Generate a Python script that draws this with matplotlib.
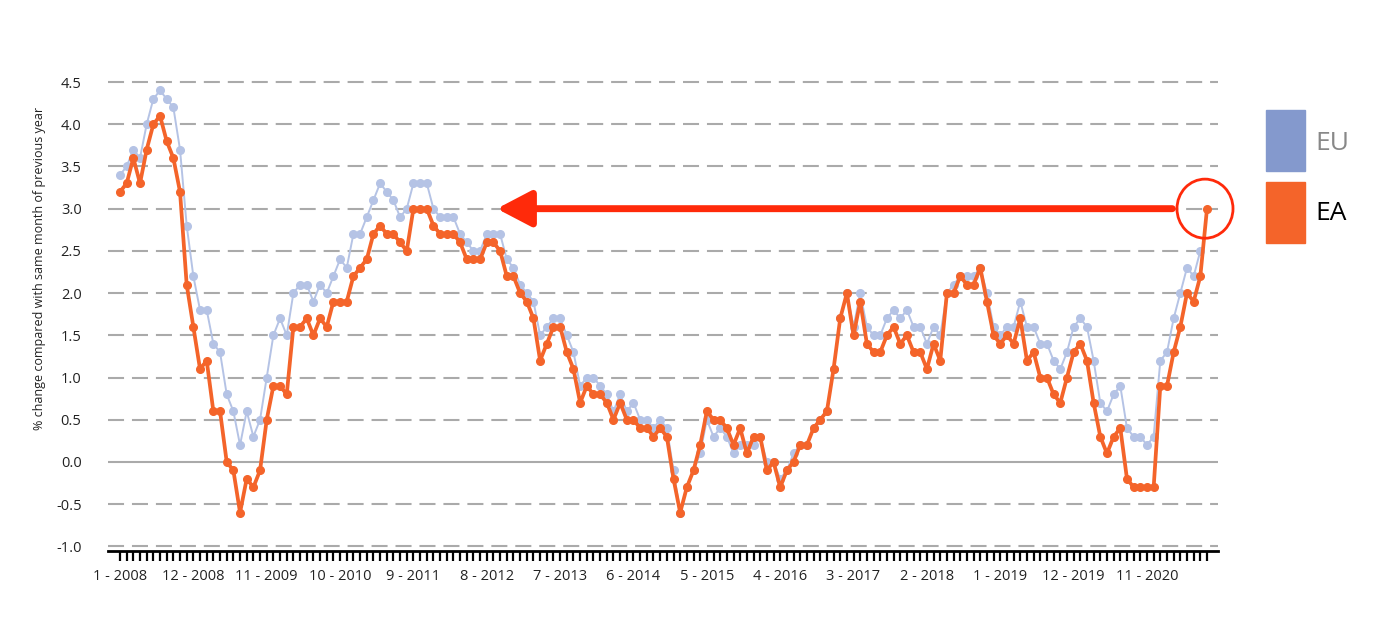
import numpy as np
import matplotlib
matplotlib.use("Agg")
import matplotlib.pyplot as plt
from matplotlib.patches import Ellipse, Rectangle

plt.rcParams['font.family'] = ['Open Sans', 'DejaVu Sans']

# === DATA (monthly, 1-2008 .. 8-2021) ===
ea_values = [
    3.2, 3.3, 3.6, 3.3, 3.7, 4.0, 4.1, 3.8, 3.6, 3.2, 2.1, 1.6,   # 2008
    1.1, 1.2, 0.6, 0.6, 0.0, -0.1, -0.6, -0.2, -0.3, -0.1, 0.5, 0.9,  # 2009
    0.9, 0.8, 1.6, 1.6, 1.7, 1.5, 1.7, 1.6, 1.9, 1.9, 1.9, 2.2,   # 2010
    2.3, 2.4, 2.7, 2.8, 2.7, 2.7, 2.6, 2.5, 3.0, 3.0, 3.0, 2.8,   # 2011
    2.7, 2.7, 2.7, 2.6, 2.4, 2.4, 2.4, 2.6, 2.6, 2.5, 2.2, 2.2,   # 2012
    2.0, 1.9, 1.7, 1.2, 1.4, 1.6, 1.6, 1.3, 1.1, 0.7, 0.9, 0.8,   # 2013
    0.8, 0.7, 0.5, 0.7, 0.5, 0.5, 0.4, 0.4, 0.3, 0.4, 0.3, -0.2,  # 2014
    -0.6, -0.3, -0.1, 0.2, 0.6, 0.5, 0.5, 0.4, 0.2, 0.4, 0.1, 0.3,  # 2015
    0.3, -0.1, 0.0, -0.3, -0.1, 0.0, 0.2, 0.2, 0.4, 0.5, 0.6, 1.1,  # 2016
    1.7, 2.0, 1.5, 1.9, 1.4, 1.3, 1.3, 1.5, 1.6, 1.4, 1.5, 1.3,   # 2017
    1.3, 1.1, 1.4, 1.2, 2.0, 2.0, 2.2, 2.1, 2.1, 2.3, 1.9, 1.5,   # 2018
    1.4, 1.5, 1.4, 1.7, 1.2, 1.3, 1.0, 1.0, 0.8, 0.7, 1.0, 1.3,   # 2019
    1.4, 1.2, 0.7, 0.3, 0.1, 0.3, 0.4, -0.2, -0.3, -0.3, -0.3, -0.3,  # 2020
    0.9, 0.9, 1.3, 1.6, 2.0, 1.9, 2.2, 3.0,                       # 2021
]

eu_values = [
    3.4, 3.5, 3.7, 3.6, 4.0, 4.3, 4.4, 4.3, 4.2, 3.7, 2.8, 2.2,   # 2008
    1.8, 1.8, 1.4, 1.3, 0.8, 0.6, 0.2, 0.6, 0.3, 0.5, 1.0, 1.5,   # 2009
    1.7, 1.5, 2.0, 2.1, 2.1, 1.9, 2.1, 2.0, 2.2, 2.4, 2.3, 2.7,   # 2010
    2.7, 2.9, 3.1, 3.3, 3.2, 3.1, 2.9, 3.0, 3.3, 3.3, 3.3, 3.0,   # 2011
    2.9, 2.9, 2.9, 2.7, 2.6, 2.5, 2.5, 2.7, 2.7, 2.7, 2.4, 2.3,   # 2012
    2.1, 2.0, 1.9, 1.5, 1.6, 1.7, 1.7, 1.5, 1.3, 0.9, 1.0, 1.0,   # 2013
    0.9, 0.8, 0.6, 0.8, 0.6, 0.7, 0.5, 0.5, 0.4, 0.5, 0.4, -0.1,  # 2014
    -0.6, -0.3, -0.1, 0.1, 0.5, 0.3, 0.4, 0.3, 0.1, 0.2, 0.2, 0.2,  # 2015
    0.3, 0.0, 0.0, -0.2, -0.1, 0.1, 0.2, 0.2, 0.4, 0.5, 0.6, 1.1,  # 2016
    1.7, 2.0, 1.6, 2.0, 1.6, 1.5, 1.5, 1.7, 1.8, 1.7, 1.8, 1.6,   # 2017
    1.6, 1.4, 1.6, 1.5, 2.0, 2.1, 2.2, 2.2, 2.2, 2.3, 2.0, 1.6,   # 2018
    1.5, 1.6, 1.6, 1.9, 1.6, 1.6, 1.4, 1.4, 1.2, 1.1, 1.3, 1.6,   # 2019
    1.7, 1.6, 1.2, 0.7, 0.6, 0.8, 0.9, 0.4, 0.3, 0.3, 0.2, 0.3,   # 2020
    1.2, 1.3, 1.7, 2.0, 2.3, 2.2, 2.5,                            # 2021
]

x_labels = ["1 - 2008", "12 - 2008", "11 - 2009", "10 - 2010", "9 - 2011",
            "8 - 2012", "7 - 2013", "6 - 2014", "5 - 2015", "4 - 2016",
            "3 - 2017", "2 - 2018", "1 - 2019", "12 - 2019", "11 - 2020"]
label_step = 11
y_ticks = [-1.0, -0.5, 0.0, 0.5, 1.0, 1.5, 2.0, 2.5, 3.0, 3.5, 4.0, 4.5]

# === STYLE ===
ORANGE = "#f4642a"
BLUE_LINE = "#b5c3e5"
BLUE_LEGEND = "#8499cd"
RED = "#ff2a0a"
GRID = "#aaaaaa"

fig = plt.figure(figsize=(13.79, 6.21), dpi=100)
ax = fig.add_axes([108 / 1379, 1 - 551 / 621, 1110 / 1379, 477.4 / 621])

x_ea = np.arange(len(ea_values))
x_eu = np.arange(len(eu_values))

# grid lines
for v in y_ticks:
    if v == 0.0:
        ax.axhline(v, color=GRID, lw=1.5, zorder=1)
    else:
        ax.axhline(v, color=GRID, lw=1.5, ls=(0, (7.7, 3.8)), zorder=1)

ax.plot(x_eu, eu_values, color=BLUE_LINE, lw=1.4, marker='o', ms=5.5,
        mec=BLUE_LINE, mfc=BLUE_LINE, zorder=2)
ax.plot(x_ea, ea_values, color=ORANGE, lw=2.7, marker='o', ms=5.5,
        mec=ORANGE, mfc=ORANGE, zorder=3)

ax.set_xlim(-1.8, 164.65)
ax.set_ylim(-1.055, 4.6)

# axes styling
for s in ['top', 'right', 'left']:
    ax.spines[s].set_visible(False)
ax.spines['bottom'].set_linewidth(2)
ax.spines['bottom'].set_color('black')

ax.set_xticks(x_ea)
ax.set_xticklabels([x_labels[i // label_step] if i % label_step == 0 and i // label_step < len(x_labels) else ""
                    for i in x_ea])
ax.tick_params(axis='x', length=7, width=1.6, color='black', pad=6,
               labelsize=10.5, labelcolor='#222222')
ax.set_yticks(y_ticks)
ax.set_yticklabels([f"{v:.1f}" for v in y_ticks])
ax.tick_params(axis='y', length=0, pad=19, labelsize=10.5, labelcolor='#222222')

fig.text(40 / 1379, 1 - 268 / 621, "% change compared with same month of previous year",
         rotation=90, va='center', ha='center', fontsize=9, color='#222222')

# annotation: arrow back to the earlier 3.0 level, circle on latest point
last = len(ea_values) - 1
ax.annotate("", xy=(56.5, 3.0), xytext=(157.8, 3.0),
            arrowprops=dict(arrowstyle='-|>,head_length=1.05,head_width=0.55',
                            color=RED, lw=5, mutation_scale=20,
                            shrinkA=0, shrinkB=0), zorder=4)
ax.add_patch(Ellipse((last - 0.3, ea_values[last]), 8.4, 0.70, fill=False,
                     ec=RED, lw=2, clip_on=False, zorder=4))

# legend boxes
fig.patches.append(Rectangle((1266 / 1379, 1 - 171 / 621), 39 / 1379, 61 / 621,
                             transform=fig.transFigure, color=BLUE_LEGEND))
fig.patches.append(Rectangle((1266 / 1379, 1 - 243 / 621), 39 / 1379, 61 / 621,
                             transform=fig.transFigure, color=ORANGE))
fig.text(1315 / 1379, 1 - 143 / 621, "EU", fontsize=19, color='#888888', va='center')
fig.text(1315 / 1379, 1 - 214 / 621, "EA", fontsize=19, color='black', va='center')

fig.savefig("out.png", dpi=100)
